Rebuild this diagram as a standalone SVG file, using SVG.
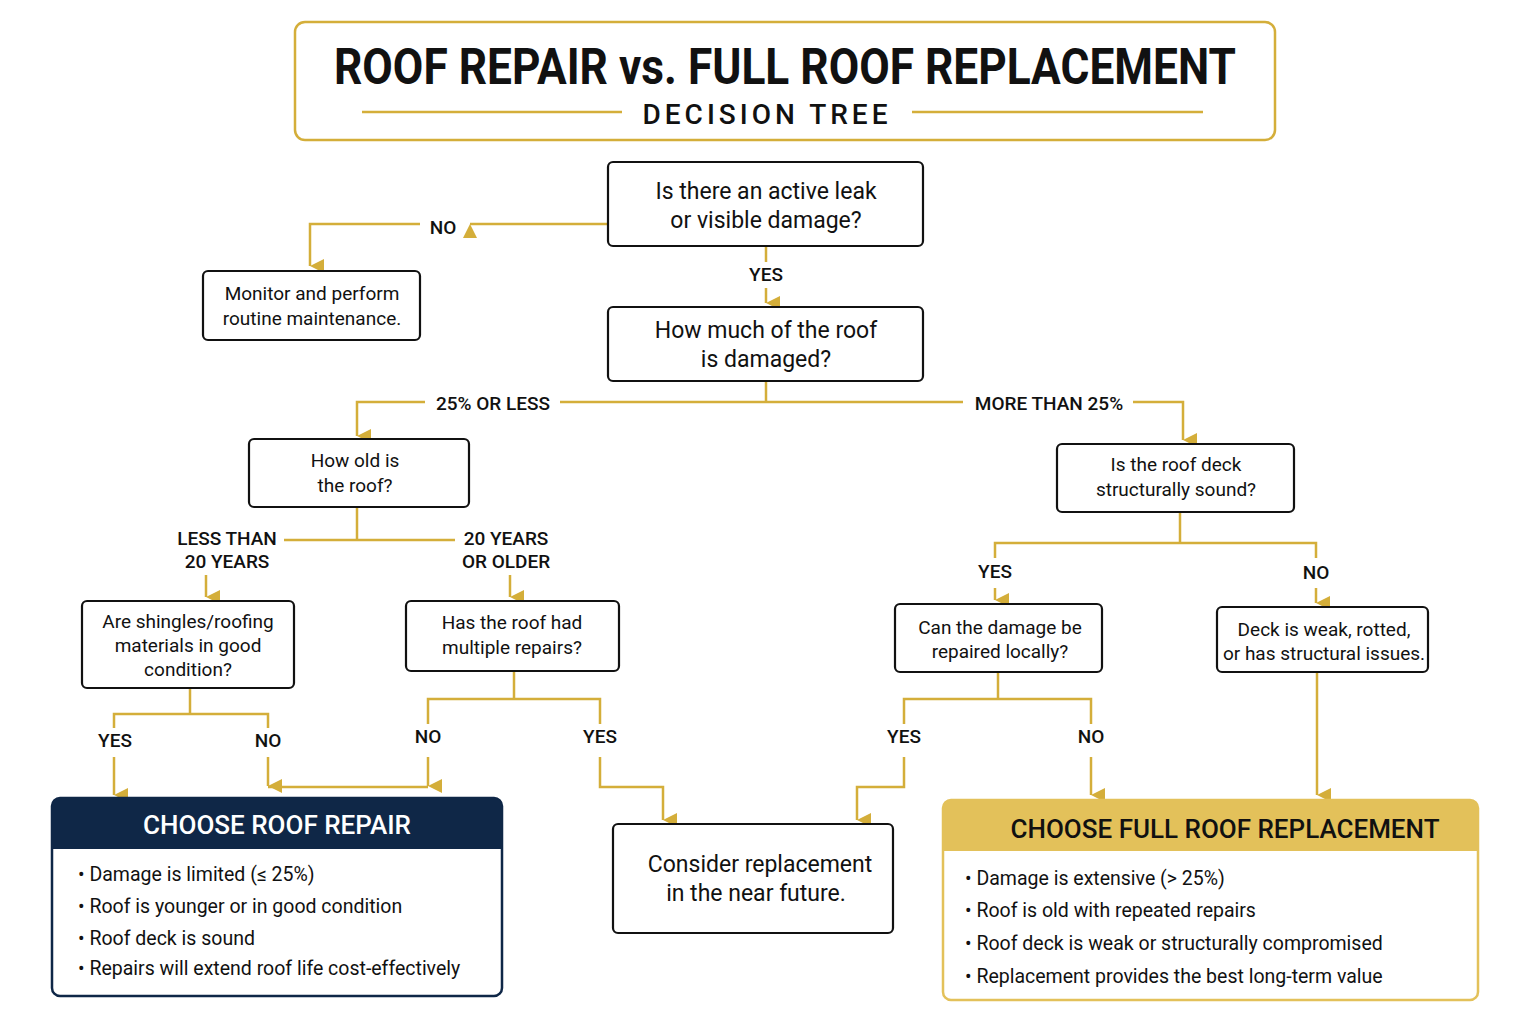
<svg xmlns="http://www.w3.org/2000/svg" width="1528" height="1024" viewBox="0 0 1528 1024">
<defs>
<marker id="ar" viewBox="0 0 10 10" refX="5" refY="10" markerWidth="14" markerHeight="14" markerUnits="userSpaceOnUse" orient="auto-start-reverse"><path d="M0,0 L10,0 L5,10 z" fill="#D4AE3A"/></marker>
<style>
text{font-family:"Roboto","Liberation Sans",sans-serif;fill:#111}
.c{stroke:#D4AE3A;stroke-width:2.5;fill:none}
.a{marker-end:url(#ar)}
.n{fill:#fff;stroke:#111;stroke-width:2.2}
.t{text-anchor:middle;font-size:23px}
.s{text-anchor:middle;font-size:19px}
.l{text-anchor:middle;font-size:19px;font-weight:500}
.b{font-size:19.5px}
</style>
</defs>
<rect width="1528" height="1024" fill="#fff"/>
<g id="title">
<rect x="295" y="22" width="980" height="118" rx="10" fill="#fff" stroke="#D4AE3A" stroke-width="2.5"/>
<text x="785" y="84" text-anchor="middle" font-size="50" font-weight="bold" textLength="902" lengthAdjust="spacingAndGlyphs">ROOF REPAIR vs. FULL ROOF REPLACEMENT</text>
<text x="767" y="124" text-anchor="middle" font-size="28" font-weight="500" letter-spacing="4">DECISION TREE</text>
<line x1="362" y1="112" x2="622" y2="112" class="c"/>
<line x1="912" y1="112" x2="1203" y2="112" class="c"/>
</g>
<g id="connectors">
<polyline class="c a" points="608,224 470,224"/>
<polyline class="c a" points="420,224 310,224 310,266"/>
<polyline class="c" points="766,246 766,262"/>
<polyline class="c a" points="766,288 766,303"/>
<polyline class="c" points="766,381 766,402"/>
<polyline class="c" points="560,402 963,402"/>
<polyline class="c a" points="425,402 357,402 357,436"/>
<polyline class="c a" points="1133,402 1183,402 1183,440"/>
<polyline class="c" points="357,507 357,540"/>
<polyline class="c" points="284,540 455,540"/>
<polyline class="c a" points="206,575 206,597"/>
<polyline class="c a" points="510,575 510,597"/>
<polyline class="c" points="190,688 190,714"/>
<polyline class="c" points="114,728 114,714 268,714 268,728"/>
<polyline class="c a" points="114,757 114,795"/>
<polyline class="c a" points="268,757 268,786"/>
<polyline class="c" points="268,787 428,787"/>
<polyline class="c a" points="428,757 428,786"/>
<polyline class="c" points="428,724 428,699 600,699 600,724"/>
<polyline class="c" points="514,671 514,699"/>
<polyline class="c a" points="600,757 600,787 663,787 663,820"/>
<polyline class="c" points="1180,512 1180,543"/>
<polyline class="c" points="995,558 995,543 1316,543 1316,558"/>
<polyline class="c a" points="995,588 995,600"/>
<polyline class="c a" points="1316,588 1316,603"/>
<polyline class="c" points="998,672 998,699"/>
<polyline class="c" points="904,724 904,699 1091,699 1091,724"/>
<polyline class="c a" points="904,757 904,787 857,787 857,820"/>
<polyline class="c a" points="1091,757 1091,795"/>
<polyline class="c a" points="1317,672 1317,795"/>
</g>
<g id="labels">
<text x="443" y="234" class="l">NO</text>
<text x="766" y="281" class="l">YES</text>
<text x="493" y="410" class="l">25% OR LESS</text>
<text x="1049" y="410" class="l">MORE THAN 25%</text>
<text x="227" y="545" class="l">LESS THAN</text>
<text x="227" y="568" class="l">20 YEARS</text>
<text x="506" y="545" class="l">20 YEARS</text>
<text x="506" y="568" class="l">OR OLDER</text>
<text x="115" y="747" class="l">YES</text>
<text x="268" y="747" class="l">NO</text>
<text x="428" y="743" class="l">NO</text>
<text x="600" y="743" class="l">YES</text>
<text x="995" y="578" class="l">YES</text>
<text x="1316" y="579" class="l">NO</text>
<text x="904" y="743" class="l">YES</text>
<text x="1091" y="743" class="l">NO</text>
</g>
<g id="q1"><rect x="608" y="162" width="315" height="84" rx="5" class="n"/><text x="766" y="199" class="t">Is there an active leak</text><text x="766" y="228" class="t">or visible damage?</text></g>
<g id="monitor"><rect x="203" y="271" width="217" height="69" rx="5" class="n"/><text x="312" y="300" class="s">Monitor and perform</text><text x="312" y="325" class="s">routine maintenance.</text></g>
<g id="q2"><rect x="608" y="307" width="315" height="74" rx="5" class="n"/><text x="766" y="338" class="t">How much of the roof</text><text x="766" y="367" class="t">is damaged?</text></g>
<g id="q3"><rect x="249" y="439" width="220" height="68" rx="5" class="n"/><text x="355" y="467" class="s">How old is</text><text x="355" y="492" class="s">the roof?</text></g>
<g id="q4"><rect x="82" y="601" width="212" height="87" rx="5" class="n"/><text x="188" y="628" class="s">Are shingles/roofing</text><text x="188" y="652" class="s">materials in good</text><text x="188" y="676" class="s">condition?</text></g>
<g id="q5"><rect x="406" y="601" width="213" height="70" rx="5" class="n"/><text x="512" y="629" class="s">Has the roof had</text><text x="512" y="654" class="s">multiple repairs?</text></g>
<g id="q6"><rect x="1057" y="444" width="237" height="68" rx="5" class="n"/><text x="1176" y="471" class="s">Is the roof deck</text><text x="1176" y="496" class="s">structurally sound?</text></g>
<g id="q7"><rect x="895" y="604" width="207" height="68" rx="5" class="n"/><text x="1000" y="634" class="s">Can the damage be</text><text x="1000" y="658" class="s">repaired locally?</text></g>
<g id="deckweak"><rect x="1217" y="607" width="211" height="65" rx="5" class="n"/><text x="1324" y="636" class="s">Deck is weak, rotted,</text><text x="1324" y="660" class="s">or has structural issues.</text></g>
<g id="consider"><rect x="613" y="824" width="280" height="109" rx="5" class="n"/><text x="760" y="872" class="t">Consider replacement</text><text x="756" y="901" class="t">in the near future.</text></g>
<g id="repair">
<rect x="52" y="798" width="450" height="198" rx="8" fill="#fff" stroke="#0F2747" stroke-width="2.5"/>
<path d="M52,849 V806 a8,8 0 0 1 8,-8 H494 a8,8 0 0 1 8,8 V849 z" fill="#0F2747"/>
<text x="277" y="834" text-anchor="middle" font-size="26" font-weight="500" style="fill:#fff">CHOOSE ROOF REPAIR</text>
<g class="b"><text x="78" y="881">•  Damage is limited (≤ 25%)</text><text x="78" y="913">•  Roof is younger or in good condition</text><text x="78" y="945">•  Roof deck is sound</text><text x="78" y="975">•  Repairs will extend roof life cost-effectively</text></g>
</g>
<g id="replace">
<rect x="943" y="800" width="535" height="200" rx="8" fill="#fff" stroke="#E3C15A" stroke-width="2.5"/>
<path d="M943,851 V808 a8,8 0 0 1 8,-8 H1470 a8,8 0 0 1 8,8 V851 z" fill="#E3C15A"/>
<text x="1225" y="838" text-anchor="middle" font-size="26" font-weight="500">CHOOSE FULL ROOF REPLACEMENT</text>
<g class="b"><text x="965" y="885">•  Damage is extensive (&gt; 25%)</text><text x="965" y="917">•  Roof is old with repeated repairs</text><text x="965" y="950">•  Roof deck is weak or structurally compromised</text><text x="965" y="983">•  Replacement provides the best long-term value</text></g>
</g>
</svg>
